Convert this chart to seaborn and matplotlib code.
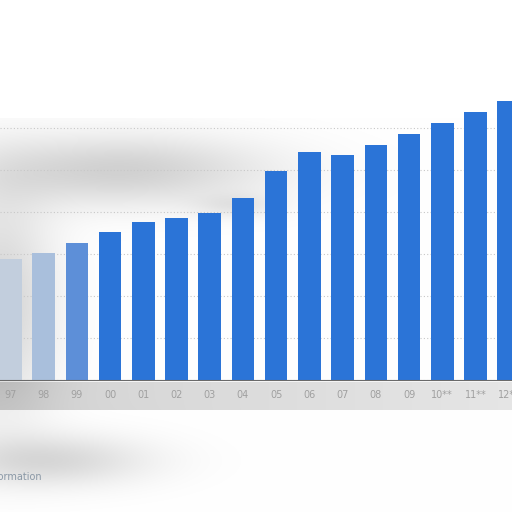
import numpy as np
import pandas as pd
import matplotlib
matplotlib.use("Agg")
import matplotlib.pyplot as plt
import seaborn as sns

years = ["97", "98", "99", "00", "01", "02", "03", "04", "05", "06",
         "07", "08", "09", "10**", "11**", "12**"]
values = [28.8, 30.2, 32.6, 35.2, 37.6, 38.6, 39.8, 43.3, 49.8, 54.3,
          53.6, 56.0, 58.6, 61.2, 63.8, 66.4]
grid_ticks = [0, 10, 20, 30, 40, 50, 60]

sns.set_theme(style="white")
plt.rcParams['font.family'] = ['DejaVu Sans']

W = H = 512
fig = plt.figure(figsize=(5.12, 5.12), dpi=100)

# background wash (decorative)
yy, xx = np.mgrid[0:H, 0:W].astype(float)
dark = np.zeros((H, W))
def blob(cx, cy, sx, sy, a):
    return a * np.exp(-(((xx - cx) / sx) ** 2 + ((yy - cy) / sy) ** 2))
dark += blob(120, 170, 150, 35, 0.18)
dark += blob(235, 205, 40, 12, 0.08)
dark += blob(0, 300, 55, 110, 0.16)
dark += blob(50, 460, 100, 26, 0.15)
band = ((yy > 381) & (yy < 410)).astype(float) * (0.17 - 0.07 * xx / W)
dark += band
dark[(yy < 118)] = 0
dark = np.clip(dark, 0, 0.3)
img = np.ones((H, W, 3)) * (1 - dark)[..., None]
ax_bg = fig.add_axes([0, 0, 1, 1], zorder=0)
ax_bg.imshow(img, aspect='auto', extent=(0, W, H, 0))
ax_bg.axis('off')

ax = fig.add_axes([0, 132 / 512, 1, 380 / 512], zorder=1)
ax.patch.set_alpha(0)

df = pd.DataFrame({"year": years, "value": values})
palette = ["#c2cedd", "#a9bfdc", "#5d8fd8"] + ["#2b74d7"] * (len(years) - 3)
sns.barplot(data=df, x="year", y="value", hue="year", palette=palette,
            legend=False, width=0.68, ax=ax, saturation=1, zorder=2,
            linewidth=0, edgecolor="none")

ax.set_xlim(-0.316, 15.1)
ax.set_ylim(0, 380 / 42 * 10)
ax.set_yticks(grid_ticks)
ax.yaxis.grid(True, linestyle=(0, (1, 2)), color="#c8c8c8", linewidth=0.8, zorder=0)
ax.set_axisbelow(True)
ax.tick_params(axis='y', left=False, labelleft=False)
ax.tick_params(axis='x', length=0, pad=7, labelsize=7, labelcolor="#a0a0a0")
ax.set_xlabel("")
ax.set_ylabel("")
for s in ["top", "left", "right"]:
    ax.spines[s].set_visible(False)
ax.spines["bottom"].set_color("#6a6a6a")
ax.spines["bottom"].set_linewidth(0.8)

fig.text(42 / 512, 1 - 477 / 512, "Additional Information", ha="right",
         va="center", fontsize=7, color="#8a98a6")

fig.savefig("out.png", dpi=100)
